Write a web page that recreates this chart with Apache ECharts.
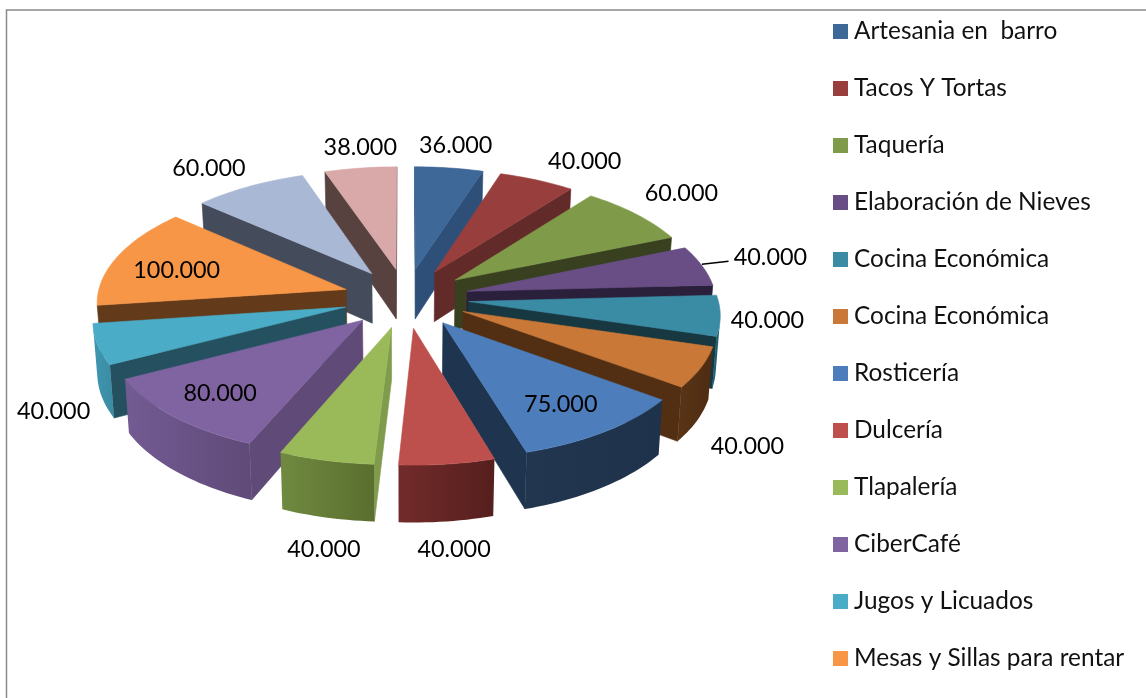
<!DOCTYPE html>
<html>
<head>
<meta charset="utf-8">
<style>html,body{margin:0;padding:0;background:#fff;overflow:hidden}#chart{width:1146px;height:698px}</style>
<script src="https://cdn.jsdelivr.net/npm/echarts@6/dist/echarts.min.js"></script>
</head>
<body>
<div id="chart"></div>
<script>
// ---- data ----
const categories = ['Artesania en  barro','Tacos Y Tortas','Taquería','Elaboración de Nieves','Cocina Económica','Cocina Económica','Rosticería','Dulcería','Tlapalería','CiberCafé','Jugos y Licuados','Mesas y Sillas para rentar','Categoría 13','Categoría 14'];
const values = [36000,40000,60000,40000,40000,40000,75000,40000,40000,80000,40000,100000,60000,38000];
const legendCount = 12;

// ---- colours ----
const topColors = ['#3d6898','#983f3d','#7f9a48','#684e85','#3a8ca5','#c97838','#4d7ebb','#bd4f4c','#9aba59','#8064a1','#4aacc6','#f69646','#a9b8d5','#d9a8a8'];
const cutColors = ['#2e5078','#632a2a','#38401f','#2b203c','#173841','#522f13','#1f344f','#6e2a29','#7f9b4c','#604b78','#245060','#633a1a','#444b5a','#574240'];
const wallLeft  = ['#2e5078','#632a2a','#38401f','#2b203c','#1f5f72','#5a3415','#22364f','#722b2a','#708a40','#735b93','#3f98b0','#633a1a','#444b5a','#574240'];
const wallRight = ['#2e5078','#632a2a','#38401f','#2b203c','#1f5f72','#4e2c12','#1f324c','#551f1e','#5a6e2f','#5f4a78','#3a8aa2','#633a1a','#444b5a','#574240'];

// ---- label placement: turn from slice middle (deg), reach from pie centre ----
const labelTurn = [-0.2,3.8,-1.4,-0.6,0.4,15.9,0.3,1.5,-4.3,0.3,-16.5,-2,-1.8,1.3];
const labelReach = [376,386,388,388,358,413,250,443,446,253,390,243,381,371];

// ---- scene geometry ----
const cx=406, cy=298, R=249, explode=63, flat=0.472, persp=0.000385, depth=50.5, taper=0.014;
const total = values.reduce((a,b)=>a+b,0);
const RAD = Math.PI/180;
const starts = []; values.reduce((c,v,i)=>{starts[i]=c/total*360;return c+v;},0);
const spans = values.map(v=>v/total*360);
const mids = starts.map((s,i)=>s+spans[i]/2);

function project(X,Y,z){
  const s=1/(1+persp*Y);
  return [cx+X*s*(1-taper*z), cy-flat*Y*s+depth*s*z];
}
function polar(deg,r){ return [r*Math.sin(deg*RAD), r*Math.cos(deg*RAD)]; }
function area(p){
  let a=0; for(let i=0;i<p.length;i++){const u=p[i],w=p[(i+1)%p.length];a+=u[0]*w[1]-w[0]*u[1];} return a;
}
function poly(points,fill,z2){
  return {type:'polygon',silent:true,z2:z2,shape:{points:points},style:{fill:fill,stroke:typeof fill==='string'?fill:null,lineWidth:0.6}};
}
function sliceChildren(i,value){
  const span=value/total*360, start=starts[i], mid=start+span/2;
  const off=polar(mid,explode);
  const pt=(deg,r)=>{const q=polar(deg,r);return [off[0]+q[0],off[1]+q[1]];};
  const n=Math.max(4,Math.ceil(span/1.5));
  const arc=[]; for(let j=0;j<=n;j++) arc.push(pt(start+span*j/n,R));
  const tip=pt(0,0);
  const P=(p,z)=>project(p[0],p[1],z);
  const kids=[]; let z2=1;
  const quad=(a,b)=>[P(a,0),P(b,0),P(b,1),P(a,1)];
  // radial cut faces
  [[tip,arc[0]],[arc[n],tip]].forEach(e=>{
    const q=quad(e[0],e[1]);
    if(area(q)<0) kids.push(poly(q,cutColors[i],z2++));
  });
  // outer curved wall: runs of viewer-facing segments
  let run=[];
  const flush=()=>{
    if(run.length>1){
      const topEdge=run.map(p=>P(p,0)), botEdge=run.map(p=>P(p,1)).reverse();
      const pts=topEdge.concat(botEdge);
      const fill={type:'linear',x:1,y:0,x2:0,y2:0,colorStops:[{offset:0,color:wallRight[i]},{offset:1,color:wallLeft[i]}]};
      kids.push(poly(pts,fill,z2++));
    }
    run=[];
  };
  for(let j=0;j<n;j++){
    if(area(quad(arc[j],arc[j+1]))<0){ if(!run.length) run.push(arc[j]); run.push(arc[j+1]); }
    else flush();
  }
  flush();
  // top face
  kids.push(poly([P(tip,0)].concat(arc.map(p=>P(p,0))),topColors[i],z2++));
  return kids;
}

const order = values.map((_,i)=>i).sort((a,b)=>Math.cos(mids[b]*RAD)-Math.cos(mids[a]*RAD));
const rank = []; order.forEach((idx,r)=>{rank[idx]=r;});

const seriesNames = categories.map((n,i)=>categories.indexOf(n)<i ? n+'\u200b' : n);
const fmt = v => String(v).replace(/\B(?=(\d{3})+$)/g,'.');

const sliceSeries = values.map((v,i)=>({
  type:'custom', name:seriesNames[i], coordinateSystem:'none', z:2+rank[i], silent:true, animation:false,
  itemStyle:{color:topColors[i]},
  data:[[v]],
  renderItem:(params,api)=>({type:'group',children:sliceChildren(i,api.value(0))})
}));

const FONT='Lato';
const labelSeries = {
  type:'custom', name:'Etiquetas', coordinateSystem:'none', z:50, silent:true, animation:false,
  data:values.map(v=>[v]),
  renderItem:(params,api)=>{
    const i=params.dataIndex, deg=mids[i]+labelTurn[i];
    const q=polar(deg,labelReach[i]), p=project(q[0],q[1],0);
    const kids=[{type:'text',silent:true,x:p[0],y:p[1]+1,style:{text:fmt(api.value(0)),fill:'#000',font:'23.4px '+FONT,align:'center',verticalAlign:'middle'}}];
    if(i===3){
      const a=polar(deg,313),b=polar(deg,342),pa=project(a[0],a[1],0),pb=project(b[0],b[1],0);
      kids.push({type:'line',silent:true,shape:{x1:pa[0],y1:pa[1],x2:pb[0],y2:pb[1]},style:{stroke:'#000',lineWidth:1.5}});
    }
    return {type:'group',children:kids};
  }
};

const chart = echarts.init(document.getElementById('chart'),null,{renderer:'canvas'});
chart.setOption({
  animation:false,
  backgroundColor:'#fff',
  legend:{
    orient:'vertical',left:833,top:19.5,icon:'rect',itemWidth:15,itemHeight:15,itemGap:33,padding:0,
    selectedMode:false,
    data:seriesNames.slice(0,legendCount),
    formatter:n=>n.replace('\u200b',''),
    textStyle:{fontFamily:FONT,fontSize:24.4,color:'#111',padding:[0,0,0,1]}
  },
  graphic:[{type:'polyline',silent:true,shape:{points:[[6.5,698],[6.5,10],[1146,10]]},style:{stroke:'#8a8a8a',lineWidth:1.5,fill:null}}],
  series:sliceSeries.concat([labelSeries])
});
</script>
</body>
</html>
